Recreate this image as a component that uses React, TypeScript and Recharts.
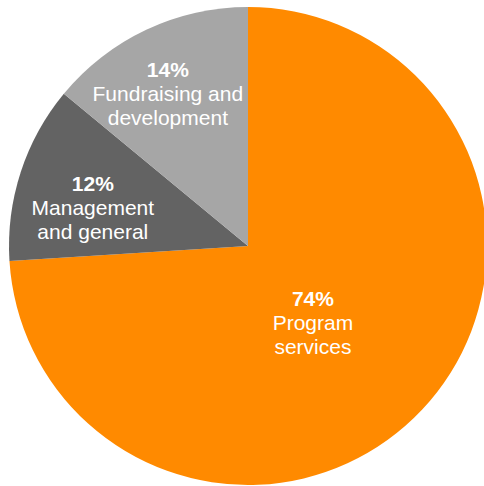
import { PieChart, Pie, Cell } from "recharts";

const CATEGORIES = ["Program services", "Management and general", "Fundraising and development"];
const LABEL_LINES = [
  ["Program", "services"],
  ["Management", "and general"],
  ["Fundraising and", "development"],
];
const SHARES = [74, 12, 14];

const COLORS = ["#FF8A00", "#636363", "#A6A6A6"];
// label placement per slice: distance from centre and small angle nudge
const LABEL_R = [100, 160, 173];
const LABEL_NUDGE = [-6.3, 3.9, 2.4];

const data = CATEGORIES.map((name, i) => ({ name, value: SHARES[i] }));

const RADIAN = Math.PI / 180;

const SliceLabel = ({ cx, cy, midAngle, index }: any) => {
  const a = (midAngle + LABEL_NUDGE[index]) * RADIAN;
  const x = cx + LABEL_R[index] * Math.cos(-a);
  const y = cy + LABEL_R[index] * Math.sin(-a);
  const lines = LABEL_LINES[index];
  return (
    <text
      x={x}
      y={y}
      fill="#fff"
      textAnchor="middle"
      dominantBaseline="central"
      style={{ fontFamily: "'Liberation Sans', Arial, sans-serif", fontSize: 21 }}
    >
      <tspan x={x} y={y - 24} fontWeight="bold">{SHARES[index]}%</tspan>
      {lines.map((l, k) => (
        <tspan key={k} x={x} y={y + k * 24}>{l}</tspan>
      ))}
    </text>
  );
};

export default function App() {
  return (
    <div style={{ position: "absolute", left: 0, top: 0, width: 484, height: 486, background: "#fff" }}>
      <PieChart width={484} height={486} margin={{ top: 0, right: 0, bottom: 0, left: 0 }}>
        <Pie
          data={data}
          dataKey="value"
          nameKey="name"
          cx={248}
          cy={246}
          outerRadius={239}
          startAngle={90}
          endAngle={-270}
          stroke="none"
          label={<SliceLabel />}
          labelLine={false}
          isAnimationActive={false}
        >
          {data.map((d, i) => (
            <Cell key={d.name} fill={COLORS[i]} />
          ))}
        </Pie>
      </PieChart>
    </div>
  );
}
